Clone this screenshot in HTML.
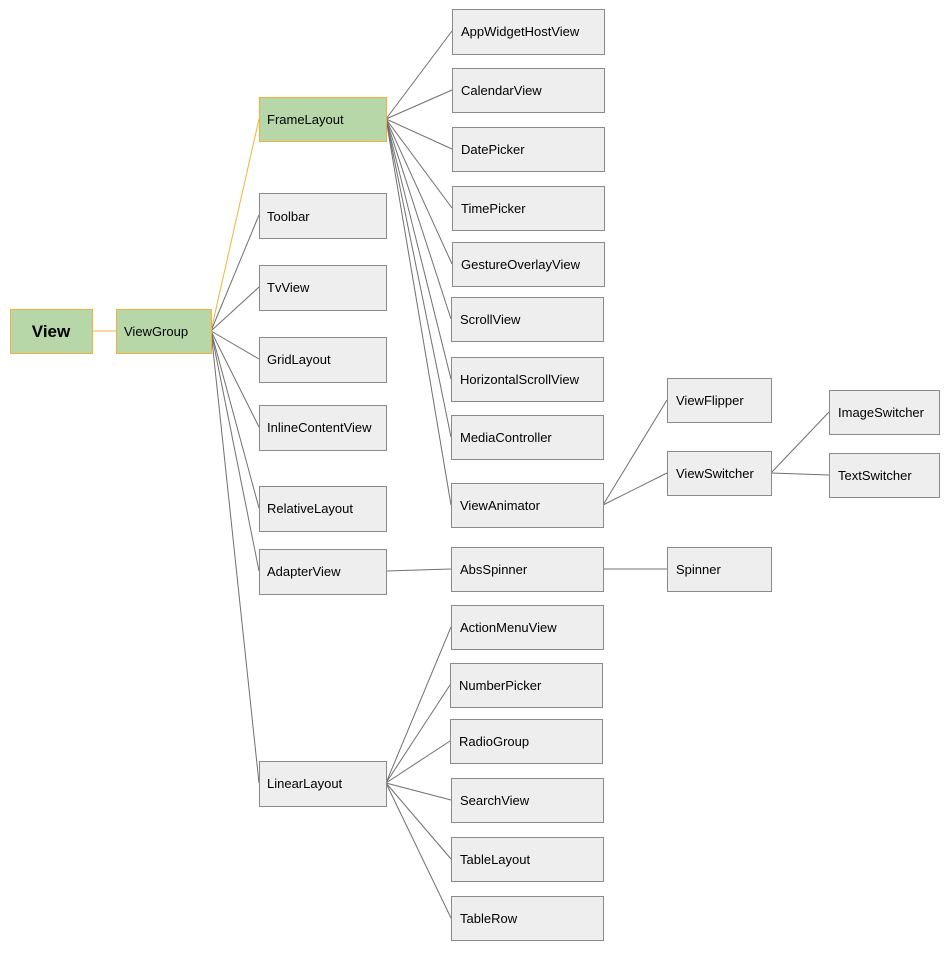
<!DOCTYPE html>
<html><head><meta charset="utf-8"><style>
html,body{margin:0;padding:0;background:#fff;}
text{font-family:"Liberation Sans",Arial,sans-serif;font-size:13px;fill:#000;}
.b{fill:#eeeeee;stroke:#8a8a8a;stroke-width:1;}
.g{fill:#b7d7a8;stroke:#f4b03e;stroke-width:1;}
.l{stroke:#707070;stroke-width:1;fill:none;}
.o{stroke:#f4b03e;stroke-width:1;fill:none;}
</style></head><body>
<svg width="952" height="952" xmlns="http://www.w3.org/2000/svg">
<!-- connectors -->
<line class="o" x1="92" y1="331" x2="116" y2="331"/>
<line class="o" x1="211" y1="331" x2="259" y2="119"/>
<g class="l">
<line x1="211" y1="331" x2="259" y2="215"/>
<line x1="211" y1="331" x2="259" y2="287"/>
<line x1="211" y1="331" x2="259" y2="359"/>
<line x1="211" y1="331" x2="259" y2="427"/>
<line x1="211" y1="331" x2="259" y2="508"/>
<line x1="211" y1="331" x2="259" y2="571"/>
<line x1="211" y1="331" x2="259" y2="783"/>
<line x1="386" y1="119" x2="452" y2="31"/>
<line x1="386" y1="119" x2="452" y2="90"/>
<line x1="386" y1="119" x2="452" y2="149"/>
<line x1="386" y1="119" x2="452" y2="208"/>
<line x1="386" y1="119" x2="452" y2="264"/>
<line x1="386" y1="119" x2="451" y2="319"/>
<line x1="386" y1="119" x2="451" y2="379"/>
<line x1="386" y1="119" x2="451" y2="437"/>
<line x1="386" y1="119" x2="451" y2="505"/>
<line x1="603" y1="505" x2="667" y2="400"/>
<line x1="603" y1="505" x2="667" y2="473"/>
<line x1="771" y1="473" x2="829" y2="412"/>
<line x1="771" y1="473" x2="829" y2="475"/>
<line x1="386" y1="571" x2="451" y2="569"/>
<line x1="603" y1="569" x2="667" y2="569"/>
<line x1="386" y1="783" x2="451" y2="627"/>
<line x1="386" y1="783" x2="450" y2="685"/>
<line x1="386" y1="783" x2="450" y2="741"/>
<line x1="386" y1="783" x2="451" y2="800"/>
<line x1="386" y1="783" x2="451" y2="859"/>
<line x1="386" y1="783" x2="451" y2="918"/>
</g>
<!-- nodes -->
<rect class="g" x="10.5" y="309.5" width="82" height="44"/>
<text x="51" y="337" text-anchor="middle" style="font-size:17px;font-weight:bold">View</text>
<rect class="g" x="116.5" y="309.5" width="95" height="44"/>
<text x="124" y="336">ViewGroup</text>
<rect class="g" x="259.5" y="97.5" width="127" height="44"/>
<text x="267" y="124">FrameLayout</text>

<rect class="b" x="259.5" y="193.5" width="127" height="45"/><text x="267" y="221">Toolbar</text>
<rect class="b" x="259.5" y="265.5" width="127" height="45"/><text x="267" y="292">TvView</text>
<rect class="b" x="259.5" y="337.5" width="127" height="45"/><text x="267" y="364">GridLayout</text>
<rect class="b" x="259.5" y="405.5" width="127" height="45"/><text x="267" y="432">InlineContentView</text>
<rect class="b" x="259.5" y="486.5" width="127" height="45"/><text x="267" y="513">RelativeLayout</text>
<rect class="b" x="259.5" y="549.5" width="127" height="45"/><text x="267" y="576">AdapterView</text>
<rect class="b" x="259.5" y="761.5" width="127" height="45"/><text x="267" y="788">LinearLayout</text>

<rect class="b" x="452.5" y="9.5" width="152" height="45"/><text x="461" y="36">AppWidgetHostView</text>
<rect class="b" x="452.5" y="68.5" width="152" height="44"/><text x="461" y="95">CalendarView</text>
<rect class="b" x="452.5" y="127.5" width="152" height="44"/><text x="461" y="154">DatePicker</text>
<rect class="b" x="452.5" y="186.5" width="152" height="44"/><text x="461" y="213">TimePicker</text>
<rect class="b" x="452.5" y="242.5" width="152" height="44"/><text x="461" y="269">GestureOverlayView</text>
<rect class="b" x="451.5" y="297.5" width="152" height="44"/><text x="460" y="324">ScrollView</text>
<rect class="b" x="451.5" y="357.5" width="152" height="44"/><text x="460" y="384">HorizontalScrollView</text>
<rect class="b" x="451.5" y="415.5" width="152" height="44"/><text x="460" y="442">MediaController</text>
<rect class="b" x="451.5" y="483.5" width="152" height="44"/><text x="460" y="510">ViewAnimator</text>
<rect class="b" x="451.5" y="547.5" width="152" height="44"/><text x="460" y="574">AbsSpinner</text>
<rect class="b" x="451.5" y="605.5" width="152" height="44"/><text x="460" y="632">ActionMenuView</text>
<rect class="b" x="450.5" y="663.5" width="152" height="44"/><text x="459" y="690">NumberPicker</text>
<rect class="b" x="450.5" y="719.5" width="152" height="44"/><text x="459" y="746">RadioGroup</text>
<rect class="b" x="451.5" y="778.5" width="152" height="44"/><text x="460" y="805">SearchView</text>
<rect class="b" x="451.5" y="837.5" width="152" height="44"/><text x="460" y="864">TableLayout</text>
<rect class="b" x="451.5" y="896.5" width="152" height="44"/><text x="460" y="923">TableRow</text>

<rect class="b" x="667.5" y="378.5" width="104" height="44"/><text x="676" y="405">ViewFlipper</text>
<rect class="b" x="667.5" y="451.5" width="104" height="44"/><text x="676" y="478">ViewSwitcher</text>
<rect class="b" x="667.5" y="547.5" width="104" height="44"/><text x="676" y="574">Spinner</text>
<rect class="b" x="829.5" y="390.5" width="110" height="44"/><text x="838" y="417">ImageSwitcher</text>
<rect class="b" x="829.5" y="453.5" width="110" height="44"/><text x="838" y="480">TextSwitcher</text>
</svg>
</body></html>
